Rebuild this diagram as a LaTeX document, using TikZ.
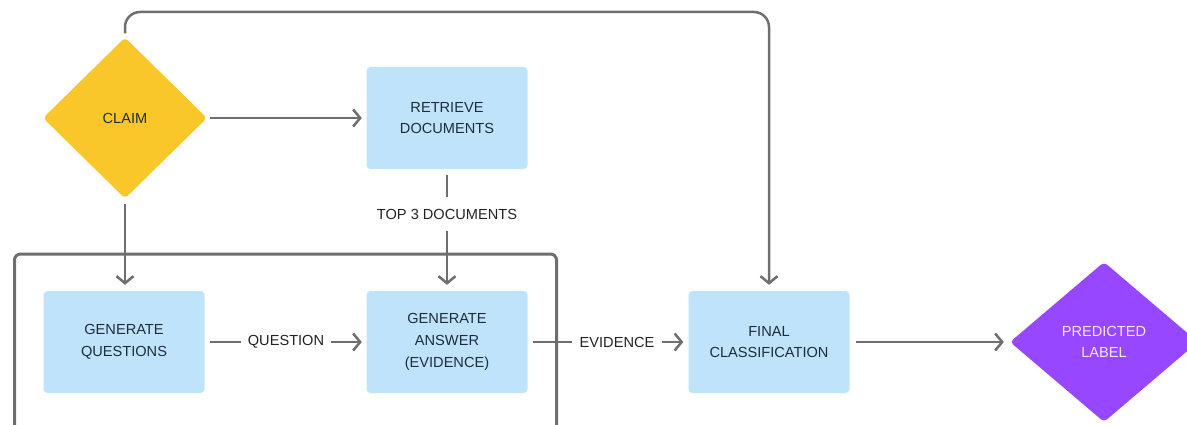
\documentclass[tikz,border=0pt]{standalone}
\usepackage{fontspec}
\setmainfont{Liberation Sans}
\usetikzlibrary{arrows.meta,shapes.geometric}

\definecolor{claimyellow}{HTML}{F9C72A}
\definecolor{stepblue}{HTML}{BEE3FA}
\definecolor{predpurple}{HTML}{9747FF}
\definecolor{predtext}{HTML}{F6E8FF}
\definecolor{boxtext}{HTML}{1F2D3B}
\definecolor{labtext}{HTML}{222222}
\definecolor{linegray}{HTML}{6E6E6E}

\tikzset{
  basefont/.style={font=\fontsize{14.6}{21.7}\selectfont},
  stepbox/.style={basefont, rectangle, rounded corners=4pt, fill=stepblue,
    text=boxtext, align=center, minimum width=161pt, minimum height=102pt,
    inner sep=0pt},
  decision/.style={basefont, diamond, rounded corners=4pt, align=center,
    inner sep=0pt},
  edgelabel/.style={basefont, text=labtext, inner xsep=7pt, inner ysep=4pt},
  link/.style={draw=linegray, line width=2.5pt},
  arrowlink/.style={link, -{Straight Barb[length=7pt,width=17pt]}},
  frameline/.style={draw=linegray, line width=3pt, rounded corners=6pt}
}

\begin{document}
\begin{tikzpicture}[x=1pt,y=-1pt]
\useasboundingbox (0,0) rectangle (1187,425);
\clip (0,0) rectangle (1187,425);

% enclosing frame around the question/answer loop (open at the bottom)
\draw[frameline] (14.5,440) |- (556.5,254) -- (556.5,440);

% nodes
\node[decision, fill=claimyellow, text=boxtext, minimum width=164pt,
      minimum height=161pt] (claim) at (125,118) {CLAIM};
\node[stepbox] (ret) at (447,118) {RETRIEVE\\DOCUMENTS};
\node[stepbox] (gq) at (124,342) {GENERATE\\QUESTIONS};
\node[stepbox] (ga) at (447,342) {GENERATE\\ANSWER\\(EVIDENCE)};
\node[stepbox] (fc) at (769,342) {FINAL\\CLASSIFICATION};
\node[decision, fill=predpurple, text=predtext, minimum width=188pt,
      minimum height=160pt] (pred) at (1104,342) {PREDICTED\\LABEL};

% edge labels
\node[edgelabel, inner ysep=12pt] (top3) at (447,214) {TOP 3 DOCUMENTS};
\node[edgelabel] (qlab) at (286,342) {QUESTION};
\node[edgelabel] (evlab) at (617,342) {EVIDENCE};

% connectors
\draw[arrowlink, shorten <=3pt, shorten >=4.5pt] (claim.east) -- (ret.west);
\draw[arrowlink, shorten <=5pt, shorten >=6pt] (claim.south) -- (claim.south |- gq.north);
\draw[link, shorten <=6pt] (ret.south) -- (top3.north);
\draw[arrowlink, shorten >=6pt] (top3.south) -- (ga.north);
\draw[link, shorten <=5pt] (gq.east) -- (qlab.west);
\draw[arrowlink, shorten >=4.5pt] (qlab.east) -- (ga.west);
\draw[link, shorten <=5pt] (ga.east) -- (evlab.west);
\draw[arrowlink, shorten >=5pt] (evlab.east) -- (fc.west);
\draw[arrowlink, shorten <=6pt, shorten >=6pt] (fc.east) -- (pred.west);
\coordinate (loopturn) at (769,12);
\draw[arrowlink, rounded corners=15pt, shorten <=4pt, shorten >=6pt]
  (claim.north) |- (loopturn) -- (fc.north);
\end{tikzpicture}
\end{document}
